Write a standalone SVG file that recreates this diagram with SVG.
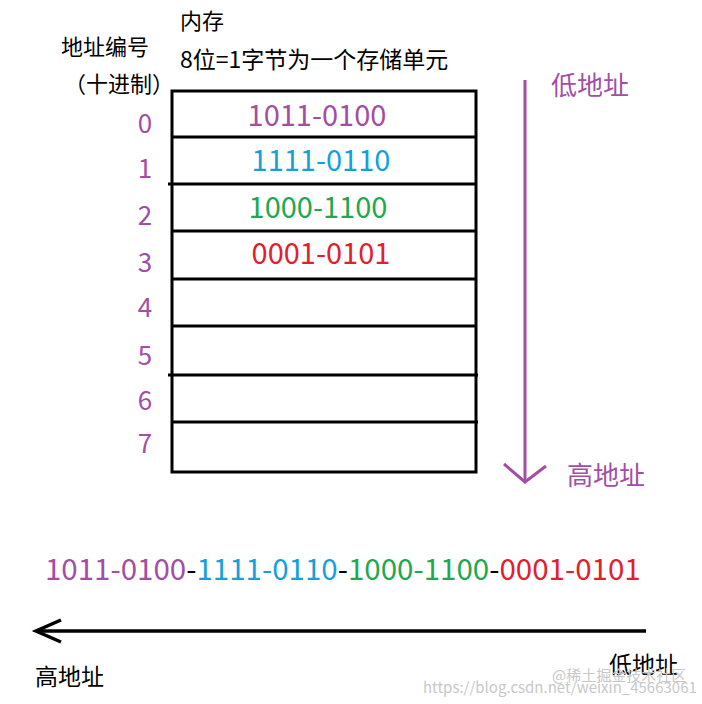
<svg xmlns="http://www.w3.org/2000/svg" width="702" height="704" viewBox="0 0 702 704">
<style>
text{font-family:"Microsoft YaHei","Noto Sans CJK SC","Noto Sans",sans-serif;}
.blk{fill:#000;}
.pur{fill:#a24ea6;}
.blu{fill:#179fdc;}
.grn{fill:#1fa84c;}
.red{fill:#e2202c;}
.cell{fill:#fff;stroke:#000;stroke-width:3;}
.hdr{font-size:22px;}
.idx{font-size:26px;text-anchor:middle;}
.val{font-size:29px;text-anchor:middle;}
.wm{fill:#c8c8c8;}
</style>
<rect width="702" height="704" fill="#fff"/>
<g id="header">
<text class="blk" x="180" y="29" font-size="22">内存</text>
<text class="blk" x="180" y="68" font-size="23">8位=1字节为一个存储单元</text>
<text class="hdr blk" x="61" y="55">地址编号</text>
<text class="hdr blk" x="64" y="92">（十进制）</text>
</g>
<g id="memory">
<rect class="cell" x="172" y="91" width="304" height="381"/>
<g stroke="#000" stroke-width="3">
<line x1="172" y1="137" x2="476" y2="137"/>
<line x1="168" y1="184" x2="476" y2="184"/>
<line x1="172" y1="231" x2="476" y2="231"/>
<line x1="172" y1="279" x2="476" y2="279"/>
<line x1="172" y1="326" x2="476" y2="326"/>
<line x1="168" y1="375" x2="478" y2="375"/>
<line x1="172" y1="422" x2="478" y2="422"/>
</g>
<text class="val pur" x="317" y="126">1011-0100</text>
<text class="val blu" x="321" y="171">1111-0110</text>
<text class="val grn" x="318" y="218">1000-1100</text>
<text class="val red" x="321" y="264">0001-0101</text>
</g>
<g id="addresses">
<text class="idx pur" x="145" y="133">0</text>
<text class="idx pur" x="145" y="178">1</text>
<text class="idx pur" x="145" y="225">2</text>
<text class="idx pur" x="145" y="272">3</text>
<text class="idx pur" x="145" y="317">4</text>
<text class="idx pur" x="145" y="365">5</text>
<text class="idx pur" x="145" y="410">6</text>
<text class="idx pur" x="145" y="453">7</text>
</g>
<g id="connectors" fill="none" stroke-linecap="butt">
<g stroke="#a24ea6" stroke-width="3">
<line x1="525" y1="80" x2="525" y2="482"/>
<polyline points="504,464 525,482 546,466"/>
</g>
<g stroke="#000" stroke-width="3.5">
<line x1="36" y1="631" x2="646" y2="631"/>
<polyline points="61,620 36,631 61,642"/>
</g>
</g>
<g id="labels">
<text class="pur" x="551" y="95" font-size="26">低地址</text>
<text class="pur" x="567" y="485" font-size="26">高地址</text>
<text x="45" y="580" font-size="29.5"><tspan class="pur">1011-0100</tspan><tspan class="blk">-</tspan><tspan class="blu">1111-0110</tspan><tspan class="blk">-</tspan><tspan class="grn">1000-1100</tspan><tspan class="blk">-</tspan><tspan class="red">0001-0101</tspan></text>
<text class="blk" x="35" y="685" font-size="23">高地址</text>
<text class="blk" x="609" y="673" font-size="23">低地址</text>
</g>
<g id="watermark">
<text class="wm" x="552" y="681" font-size="15">@稀土掘金技术社区</text>
<text class="wm" x="423" y="693" font-size="15">https://blog.csdn.net/weixin_45663061</text>
</g>
</svg>
